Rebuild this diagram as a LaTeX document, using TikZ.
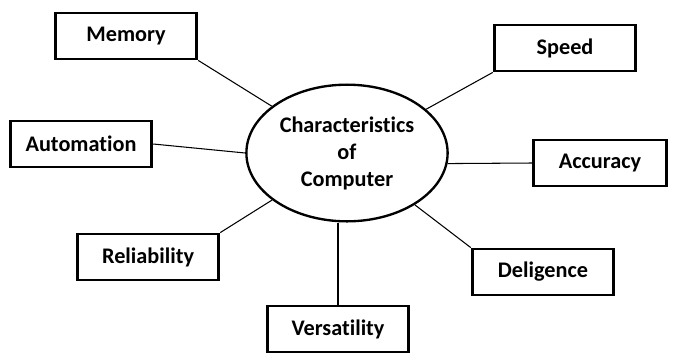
\documentclass[tikz,border=0pt]{standalone}
\usepackage{fontspec}
\setmainfont{Carlito}[Ligatures=NoCommon]
\usetikzlibrary{shapes.geometric}
\tikzset {
  % feature box
  trait/.style = {
    draw = black,
    line width = 2.4pt,
    rectangle,
    minimum width = 4.25cm,
    minimum height = 1.38cm,
    font = \fontsize{19}{22}\selectfont\bfseries
  },
  % central ellipse
  hub/.style = {
    draw = black,
    line width = 2pt,
    ellipse,
    minimum width = 5.85cm,
    minimum height = 4.1cm,
    align = center,
    font = \fontsize{19}{23}\selectfont\bfseries
  },
  link/.style = {
    draw = black,
    line width = 0.9pt
  }
}

\begin{document}
\begin{tikzpicture}[x=0.03cm, y=-0.03cm]
    \useasboundingbox (0,0) rectangle (677,352);

    \node[hub] (hub) at (347,153) {Characteristics\\of\\Computer};

    \node[trait] (memory) at (126,36) {Memory};
    \node[trait] (speed) at (565,48) {Speed};
    \node[trait] (automation) at (81,144) {Automation};
    \node[trait, minimum width = 4cm] (accuracy) at (600,163) {Accuracy};
    \node[trait] (reliability) at (148,257) {Reliability};
    \node[trait] (versatility) at (338,329) {Versatility};
    \node[trait] (deligence) at (543,272) {Deligence};

    \draw[link] (memory.south east) -- (hub);
    \draw[link] (speed.south west) -- (hub);
    \draw[link] (automation.east) -- (hub.west);
    \draw[link] (hub.-6) -- (accuracy.west);
    \draw[link] (reliability.north east) -- (hub);
    \draw[link] (versatility.north |- hub.south) -- (versatility.north);
    \draw[link] (hub) -- (deligence.north west);
  \end{tikzpicture}
\end{document}
